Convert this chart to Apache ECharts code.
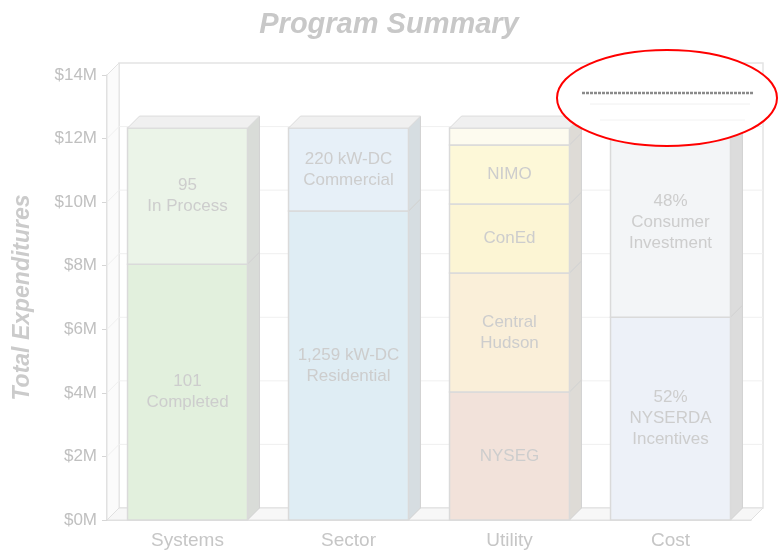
<!DOCTYPE html>
<html>
<head>
<meta charset="utf-8">
<script src="https://cdn.jsdelivr.net/npm/echarts@6/dist/echarts.min.js"></script>
<style>
  html, body { margin: 0; background: #fff; }
  #chart { width: 778px; height: 553px; }
</style>
</head>
<body>
<div id="chart"></div>
<script>
const categories = ['Systems', 'Sector', 'Utility', 'Cost']
const systemsValues = [8.05, 4.28]
const systemsLabels = ['101\nCompleted', '95\nIn Process']
const sectorValues = [9.72, 2.61]
const sectorLabels = ['1,259 kW-DC\nResidential', '220 kW-DC\nCommercial']
const utilityValues = [4.03, 3.74, 2.17, 1.86, 0.53]
const utilityLabels = ['NYSEG', 'Central\nHudson', 'ConEd', 'NIMO', '']
const costValues = [6.38, 5.95]
const costLabels = ['52%\nNYSERDA\nIncentives', '48%\nConsumer\nInvestment']
const yTicks = [0, 2, 4, 6, 8, 10, 12, 14]

// colours per category, bottom segment first
const colors = [
  ['#e2f0dd', '#ebf4e8'],
  ['#dfedf4', '#e7f0f8'],
  ['#f2e2da', '#faefd9', '#fcf5d4', '#fdf8d8', '#fdfbef'],
  ['#edf1f8', '#f3f5f7']
]
const sideColors = ['#d9dcd8', '#d6dde1', '#dedbd6', '#dcdcdc']
const DEPTH = 12
const FONT = '"Liberation Sans", Arial, sans-serif'

const stacks = [
  [systemsValues, systemsLabels],
  [sectorValues, sectorLabels],
  [utilityValues, utilityLabels],
  [costValues, costLabels]
]
const segData = []
const segText = []
stacks.forEach(([vals, labs], c) => {
  let acc = 0
  vals.forEach((v, i) => {
    segData.push([c, acc, acc + v, i, i === vals.length - 1 ? 1 : 0])
    segText.push(labs[i])
    acc += v
  })
})

function renderBar(params, api) {
  const c = api.value(0)
  const start = api.value(1)
  const end = api.value(2)
  const seg = api.value(3)
  const isTop = api.value(4)
  const base = api.coord([c, start])
  const top = api.coord([c, end])
  const bw = api.size([1, 0])[0] * 0.745
  const x0 = base[0] - bw / 2
  const x1 = x0 + bw
  const h = base[1] - top[1]
  const children = [
    {
      type: 'polygon',
      shape: { points: [[x1, top[1]], [x1 + DEPTH, top[1] - DEPTH], [x1 + DEPTH, base[1] - DEPTH], [x1, base[1]]] },
      style: { fill: sideColors[c], stroke: '#d2d2d2', lineWidth: 1 }
    },
    {
      type: 'rect',
      shape: { x: x0, y: top[1], width: bw, height: h },
      style: { fill: colors[c][seg], stroke: '#dadada', lineWidth: 1.5 }
    },
    {
      type: 'text',
      style: {
        x: x0 + bw / 2,
        y: top[1] + h / 2,
        text: segText[params.dataIndex],
        align: 'center',
        verticalAlign: 'middle',
        fill: '#cdcdcd',
        font: '17px ' + FONT,
        lineHeight: 21
      }
    }
  ]
  if (isTop) {
    children.push({
      type: 'polygon',
      shape: { points: [[x0, top[1]], [x0 + DEPTH, top[1] - DEPTH], [x1 + DEPTH, top[1] - DEPTH], [x1, top[1]]] },
      style: { fill: '#f0f0f0', stroke: '#dcdcdc', lineWidth: 1 }
    })
  }
  return { type: 'group', children }
}

function renderWall(params, api) {
  const v = api.value(1)
  const p = api.coord([0, v])
  const cs = params.coordSys
  const xl = cs.x
  const xr = cs.x + cs.width
  const children = []
  if (params.dataIndex === 0) {
    const yb = p[1]
    const yt = cs.y
    children.push(
      { type: 'polygon', shape: { points: [[xl + DEPTH, yt - DEPTH], [xr + DEPTH, yt - DEPTH], [xr + DEPTH, yb - DEPTH], [xl + DEPTH, yb - DEPTH]] },
        style: { fill: '#fff', stroke: '#e4e4e4', lineWidth: 1.5 } },
      { type: 'polygon', shape: { points: [[xl, yt], [xl + DEPTH, yt - DEPTH], [xl + DEPTH, yb - DEPTH], [xl, yb]] },
        style: { fill: '#fbfbfb', stroke: '#e2e2e2', lineWidth: 1 } },
      { type: 'polygon', shape: { points: [[xl, yb], [xl + DEPTH, yb - DEPTH], [xr + DEPTH, yb - DEPTH], [xr, yb]] },
        style: { fill: '#f7f7f7', stroke: '#e0e0e0', lineWidth: 1 } }
    )
  } else if (v < yTicks[yTicks.length - 1]) {
    children.push({
      type: 'polyline',
      shape: { points: [[xl, p[1]], [xl + DEPTH, p[1] - DEPTH], [xr + DEPTH, p[1] - DEPTH]] },
      style: { fill: null, stroke: '#f0f0f0', lineWidth: 1 }
    })
  }
  return { type: 'group', children }
}

const chart = echarts.init(document.getElementById('chart'))
chart.setOption({
  animation: false,
  backgroundColor: '#fff',
  title: {
    text: 'Program Summary',
    left: 'center',
    top: 5,
    textStyle: { fontSize: 29, fontWeight: 'bold', fontStyle: 'italic', color: '#c8c8c8', fontFamily: FONT }
  },
  grid: { left: 107, right: 27, top: 75, bottom: 33, outerBoundsMode: 'none' },
  xAxis: {
    type: 'category',
    data: categories,
    axisLine: { lineStyle: { color: '#d6d6d6', width: 1.5 } },
    axisTick: { alignWithLabel: true, length: 5, lineStyle: { color: '#d6d6d6' } },
    axisLabel: { fontSize: 19, color: '#c6c6c6', margin: 11, fontFamily: FONT }
  },
  yAxis: {
    type: 'value',
    min: 0,
    max: 14,
    interval: 2,
    name: 'Total Expenditures',
    nameLocation: 'middle',
    nameGap: 73,
    nameTextStyle: { fontSize: 23, fontWeight: 'bold', fontStyle: 'italic', color: '#cbcbcb', fontFamily: FONT },
    axisLine: { show: true, lineStyle: { color: '#d6d6d6', width: 1.5 } },
    axisTick: { show: true, length: 5, lineStyle: { color: '#d6d6d6' } },
    axisLabel: { fontSize: 17, color: '#c0c0c0', margin: 10, fontFamily: FONT, formatter: v => '$' + v + 'M' },
    splitLine: { show: false }
  },
  series: [
    {
      type: 'custom',
      z: 1,
      renderItem: renderWall,
      encode: { x: 0, y: 1 },
      data: yTicks.map(v => [0, v]),
      silent: true
    },
    {
      type: 'custom',
      z: 2,
      renderItem: renderBar,
      encode: { x: 0, y: [1, 2] },
      data: segData
    }
  ],
  graphic: [
    {
      type: 'ellipse',
      z: 100,
      shape: { cx: 667, cy: 98, rx: 110, ry: 48 },
      style: { fill: '#fff', stroke: '#ff0000', lineWidth: 2 }
    },
    {
      type: 'line',
      z: 101,
      shape: { x1: 582, y1: 93, x2: 754, y2: 93 },
      style: { stroke: '#8a8a8a', lineWidth: 2.5, lineDash: [3, 1] }
    },
    {
      type: 'line',
      z: 101,
      shape: { x1: 590, y1: 104, x2: 750, y2: 104 },
      style: { stroke: '#f0f0f0', lineWidth: 1 }
    },
    {
      type: 'line',
      z: 101,
      shape: { x1: 600, y1: 120, x2: 745, y2: 120 },
      style: { stroke: '#f2f2f2', lineWidth: 1 }
    }
  ]
})
</script>
</body>
</html>
